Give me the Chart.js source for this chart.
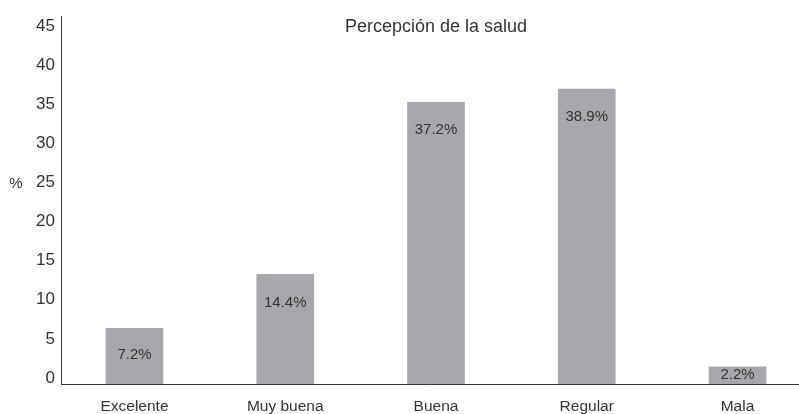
<!DOCTYPE html>
<html>
<head>
<meta charset="utf-8">
<script src="https://cdn.jsdelivr.net/npm/chart.js@4"></script>
<style>
  html, body { margin: 0; padding: 0; background: #fff; overflow: hidden; }
  #wrap { width: 799px; height: 414px; position: relative; }
</style>
</head>
<body>
<div id="wrap"><canvas id="saludChart"></canvas></div>
<script>
// Data
const categorias = ['Excelente', 'Muy buena', 'Buena', 'Regular', 'Mala'];
const alturas = [7.1, 14.0, 36.0, 37.7, 2.2];          // bar heights as drawn
const etiquetas = ['7.2%', '14.4%', '37.2%', '38.9%', '2.2%']; // printed values
const tituloGrafico = 'Percepción de la salud';
const unidadY = '%';

const textColor = '#333333';
const fontFam = '"Liberation Sans", Arial, sans-serif';

// Title, "%" label and the value labels inside the bars
const textosPlugin = {
    id: 'textos',
    afterDatasetsDraw(chart) {
        const c = chart.ctx;
        const area = chart.chartArea;
        const yScale = chart.scales.y;
        c.save();
        c.fillStyle = textColor;
        c.textAlign = 'center';
        c.textBaseline = 'middle';

        c.font = '18px ' + fontFam;
        c.fillText(tituloGrafico, (area.left + area.right) / 2 + 6, area.top + 11);

        c.font = '15px ' + fontFam;
        c.fillText(unidadY, 16, yScale.getPixelForValue(25) - 5);

        const meta = chart.getDatasetMeta(0);
        meta.data.forEach((bar, i) => {
            const mid = (bar.y + bar.base) / 2 - 1;
            const y = Math.min(bar.y + 28, mid);
            c.fillText(etiquetas[i], bar.x, y);
        });
        c.restore();
    }
};

const ctx = document.getElementById('saludChart').getContext('2d');

new Chart(ctx, {
    type: 'bar',
    data: {
        datasets: [{
            data: alturas.map((v, i) => ({ x: i, y: v })),
            backgroundColor: '#a7a8ab',
            borderWidth: 0,
            barThickness: 57
        }]
    },
    options: {
        responsive: true,
        maintainAspectRatio: false,
        animation: false,
        layout: { padding: { top: 14, right: 0, left: 0, bottom: 0 } },
        plugins: {
            legend: { display: false },
            tooltip: { enabled: false }
        },
        scales: {
            x: {
                type: 'linear',
                offset: false,
                min: -0.4876,
                max: 4.408,
                grid: { display: false, drawTicks: false, offset: false },
                border: { display: true, color: '#3a3a3a', width: 1 },
                ticks: {
                    stepSize: 1,
                    includeBounds: false,
                    autoSkip: false,
                    maxRotation: 0,
                    padding: 13,
                    color: textColor,
                    font: { family: fontFam, size: 15.5 },
                    callback: (v) => categorias[v] !== undefined && Number.isInteger(v) ? categorias[v] : ''
                },
                afterFit(scale) { scale.height = 30; }
            },
            y: {
                min: 0,
                max: 47,
                grid: { display: false, drawTicks: false },
                border: { display: true, color: '#3a3a3a', width: 1 },
                ticks: {
                    stepSize: 5,
                    includeBounds: false,
                    padding: 6,
                    labelOffset: -6,
                    color: textColor,
                    font: { family: fontFam, size: 17 }
                },
                afterFit(scale) { scale.width = 61; }
            }
        }
    },
    plugins: [textosPlugin]
});
</script>
</body>
</html>
